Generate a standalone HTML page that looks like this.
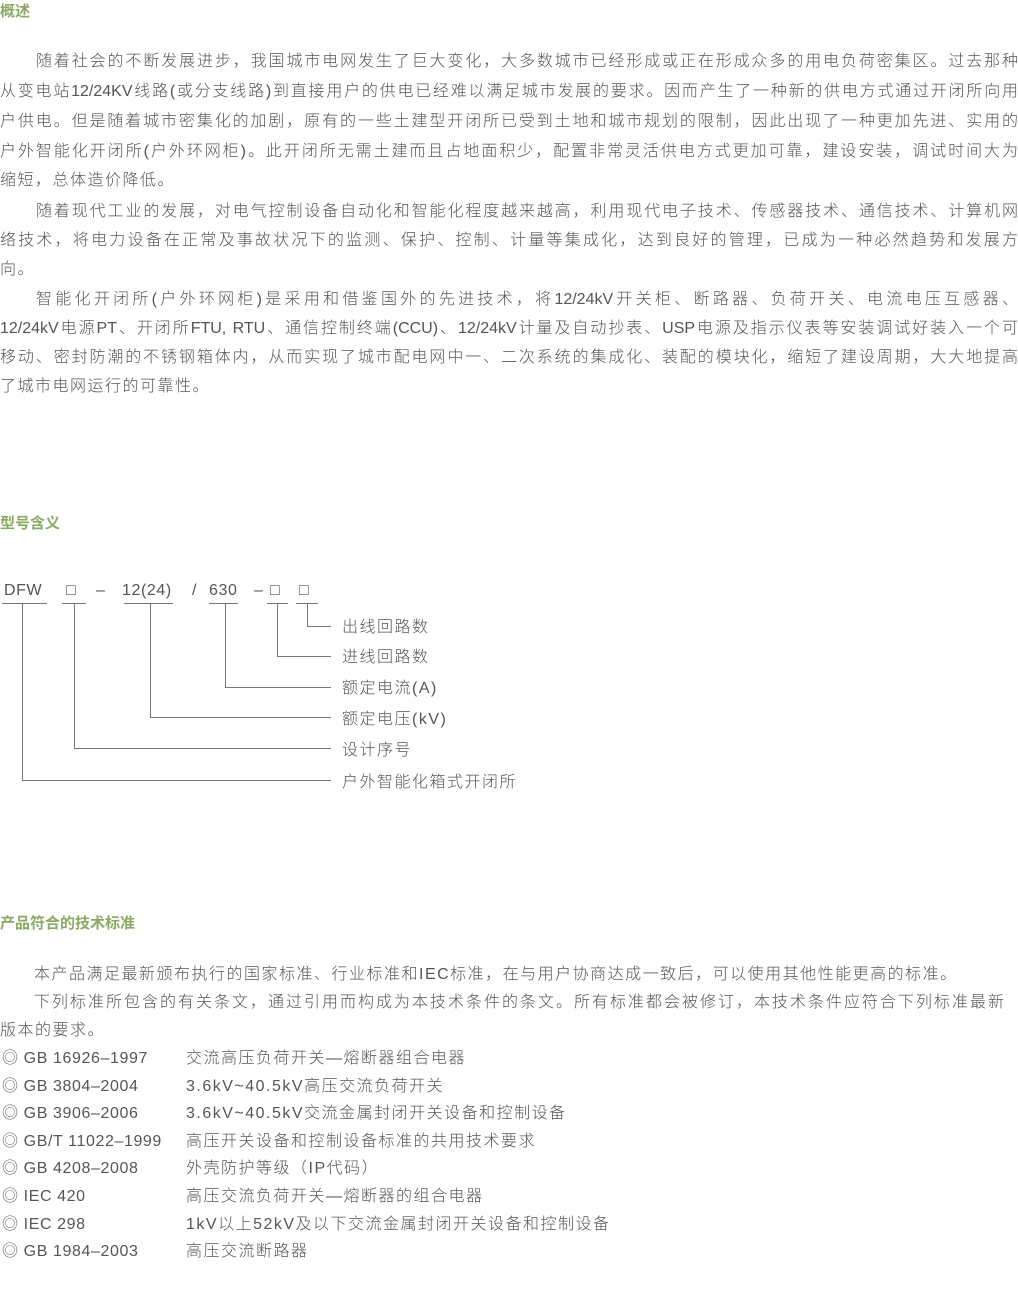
<!DOCTYPE html>
<html><head><meta charset="utf-8"><style>
body{margin:0;width:1018px;height:1302px;background:#fff;position:relative;overflow:hidden;font-family:"Liberation Sans","Noto Sans CJK SC",sans-serif;color:#555;font-weight:300}
.h{position:absolute;left:0;font-size:15px;font-weight:bold;color:#8aa964}
.l{position:absolute;left:0;width:1018px;font-size:16px;line-height:20px;white-space:nowrap;text-align:justify;text-align-last:justify}
.s{position:absolute;font-size:16px;line-height:20px;white-space:nowrap;letter-spacing:1.5px}
.c{letter-spacing:0.6px}
svg text{font-family:"Liberation Sans","Noto Sans CJK SC",sans-serif;font-size:16px;fill:#555;letter-spacing:1.5px}
svg text.n{letter-spacing:0.6px}
</style></head><body>
<div class="h" style="top:0">概述</div>
<div class="l" style="top:52px;left:36px;width:982px">随着社会的不断发展进步，我国城市电网发生了巨大变化，大多数城市已经形成或正在形成众多的用电负荷密集区。过去那种</div>
<div class="l" style="top:82px">从变电站12/24KV线路(或分支线路)到直接用户的供电已经难以满足城市发展的要求。因而产生了一种新的供电方式通过开闭所向用</div>
<div class="l" style="top:112px">户供电。但是随着城市密集化的加剧，原有的一些土建型开闭所已受到土地和城市规划的限制，因此出现了一种更加先进、实用的</div>
<div class="l" style="top:142px">户外智能化开闭所(户外环网柜)。此开闭所无需土建而且占地面积少，配置非常灵活供电方式更加可靠，建设安装，调试时间大为</div>
<div class="s" style="top:171px;left:0">缩短，总体造价降低。</div>
<div class="l" style="top:202px;left:36px;width:982px">随着现代工业的发展，对电气控制设备自动化和智能化程度越来越高，利用现代电子技术、传感器技术、通信技术、计算机网</div>
<div class="l" style="top:231px">络技术，将电力设备在正常及事故状况下的监测、保护、控制、计量等集成化，达到良好的管理，已成为一种必然趋势和发展方</div>
<div class="s" style="top:260px;left:0">向。</div>
<div class="l" style="top:290px;left:36px;width:982px">智能化开闭所(户外环网柜)是采用和借鉴国外的先进技术，将12/24kV开关柜、断路器、负荷开关、电流电压互感器、</div>
<div class="l" style="top:319px">12/24kV电源PT、开闭所FTU, RTU、通信控制终端(CCU)、12/24kV计量及自动抄表、USP电源及指示仪表等安装调试好装入一个可</div>
<div class="l" style="top:348px">移动、密封防潮的不锈钢箱体内，从而实现了城市配电网中一、二次系统的集成化、装配的模块化，缩短了建设周期，大大地提高</div>
<div class="s" style="top:377px;left:0">了城市电网运行的可靠性。</div>

<div class="h" style="top:512px">型号含义</div>
<svg style="position:absolute;left:0;top:0" width="1018" height="1302">
<g fill="none" stroke="#777" stroke-width="1">
<path d="M2 603.5H47M62 603.5H86M124 603.5H173M209 603.5H238M267 603.5H288M296 603.5H318"/>
<path d="M307.5 604V626.5H331M277.5 604V656.5H331M225.5 604V687.5H331M150.5 604V717.5H331M74.5 604V748.5H331M22.5 604V780.5H331"/>
</g>
<text class="n" x="4" y="595">DFW</text>
<text x="66" y="595">□</text>
<text x="96" y="595">–</text>
<text class="n" x="122" y="595">12(24)</text>
<text x="192" y="595">/</text>
<text class="n" x="209" y="595">630</text>
<text x="254" y="595">–</text>
<text x="270" y="595">□</text>
<text x="299" y="595">□</text>
<text x="342" y="632">出线回路数</text>
<text x="342" y="662">进线回路数</text>
<text x="342" y="693">额定电流(A)</text>
<text x="342" y="724">额定电压(kV)</text>
<text x="342" y="755">设计序号</text>
<text x="342" y="787">户外智能化箱式开闭所</text>
</svg>

<div class="h" style="top:912px">产品符合的技术标准</div>
<div class="s" style="top:965px;left:34px">本产品满足最新颁布执行的国家标准、行业标准和IEC标准，在与用户协商达成一致后，可以使用其他性能更高的标准。</div>
<div class="l" style="top:993px;left:34px;width:970px">下列标准所包含的有关条文，通过引用而构成为本技术条件的条文。所有标准都会被修订，本技术条件应符合下列标准最新</div>
<div class="s" style="top:1021px;left:0">版本的要求。</div>
<div class="s c" style="top:1049px;left:2px">◎ GB 16926–1997</div><div class="s" style="top:1049px;left:186px">交流高压负荷开关—熔断器组合电器</div>
<div class="s c" style="top:1077px;left:2px">◎ GB 3804–2004</div><div class="s" style="top:1077px;left:186px">3.6kV~40.5kV高压交流负荷开关</div>
<div class="s c" style="top:1104px;left:2px">◎ GB 3906–2006</div><div class="s" style="top:1104px;left:186px">3.6kV~40.5kV交流金属封闭开关设备和控制设备</div>
<div class="s c" style="top:1132px;left:2px">◎ GB/T 11022–1999</div><div class="s" style="top:1132px;left:186px">高压开关设备和控制设备标准的共用技术要求</div>
<div class="s c" style="top:1159px;left:2px">◎ GB 4208–2008</div><div class="s" style="top:1159px;left:186px">外壳防护等级（IP代码）</div>
<div class="s c" style="top:1187px;left:2px">◎ IEC 420</div><div class="s" style="top:1187px;left:186px">高压交流负荷开关—熔断器的组合电器</div>
<div class="s c" style="top:1215px;left:2px">◎ IEC 298</div><div class="s" style="top:1215px;left:186px">1kV以上52kV及以下交流金属封闭开关设备和控制设备</div>
<div class="s c" style="top:1242px;left:2px">◎ GB 1984–2003</div><div class="s" style="top:1242px;left:186px">高压交流断路器</div>
</body></html>
